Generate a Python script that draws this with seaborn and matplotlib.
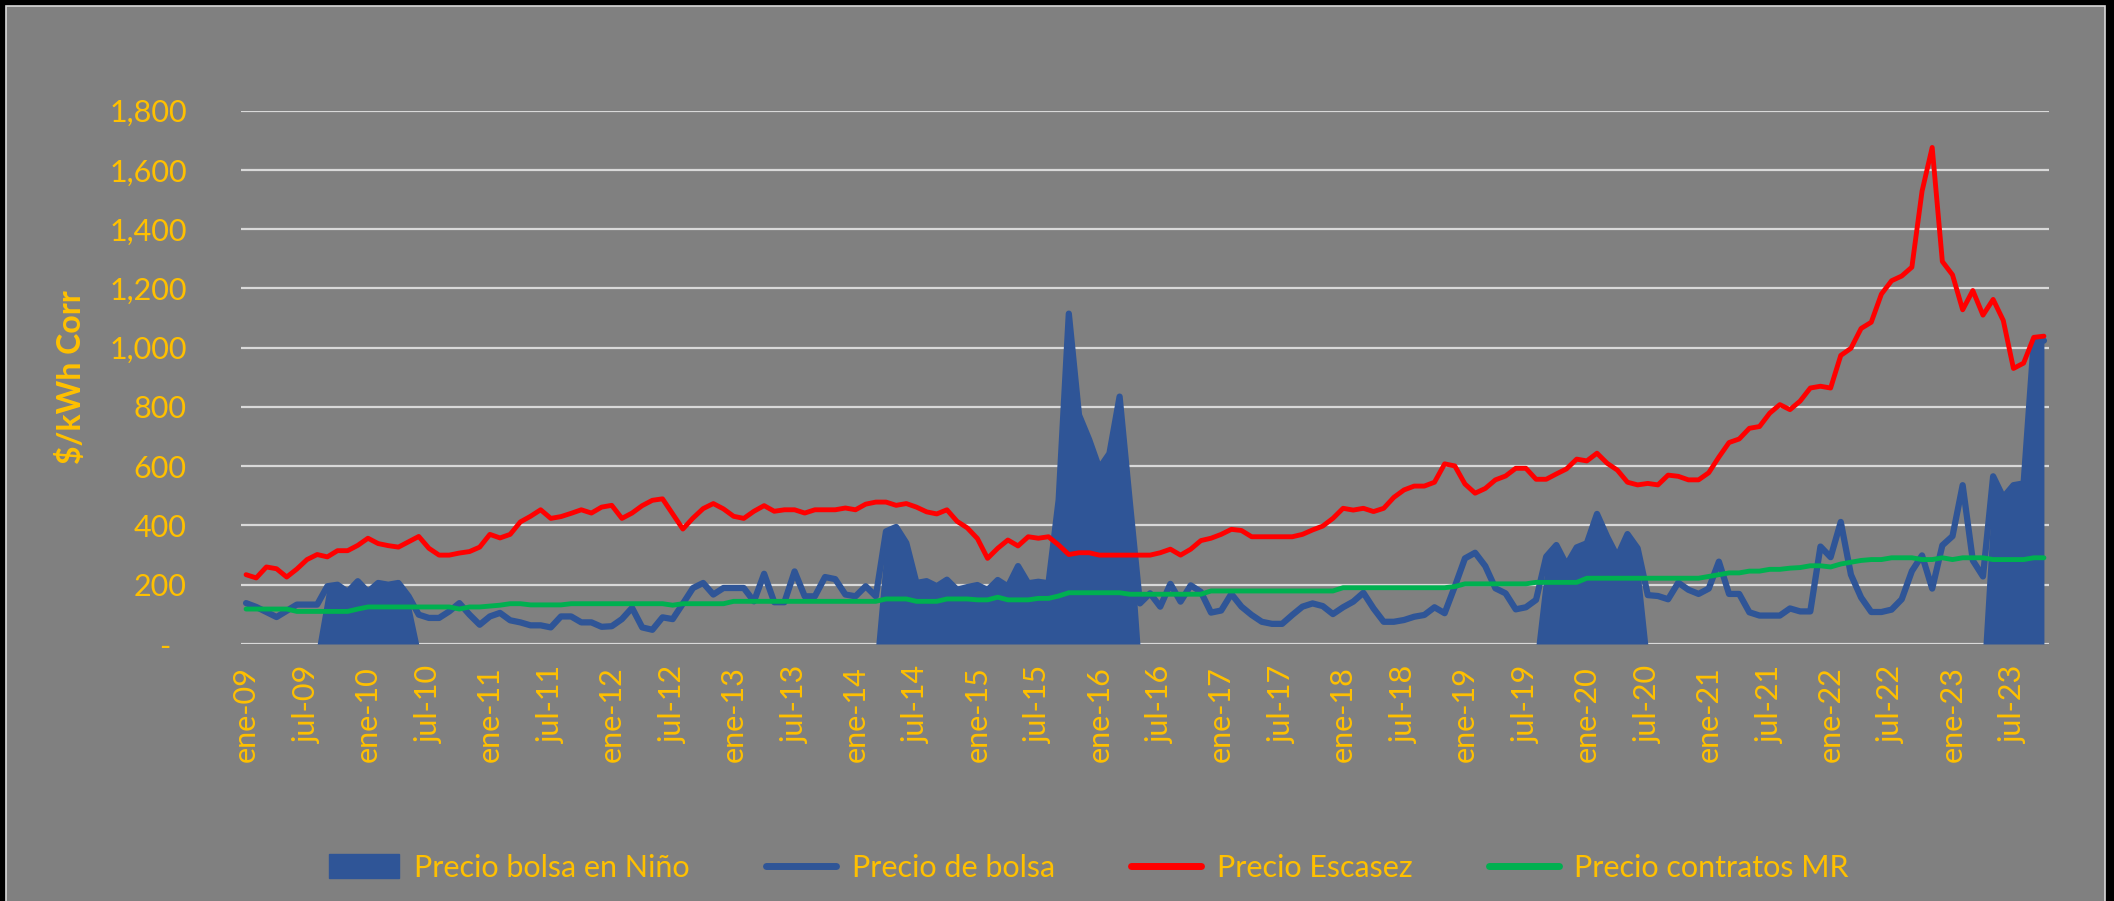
import numpy as np
import pandas as pd
import matplotlib
matplotlib.use("Agg")
import matplotlib.pyplot as plt
from matplotlib.patches import Rectangle, Patch
from matplotlib.lines import Line2D
import seaborn as sns

# monthly series, ene-09 .. oct-23 ($/kWh Corr)
precio_escasez = [
    234, 223, 260, 254, 226, 253, 285, 302, 294, 315,
    315, 333, 357, 339, 332, 327, 345, 363, 323, 300,
    300, 307, 312, 327, 370, 358, 370, 412, 431, 453,
    424, 430, 441, 453, 442, 462, 468, 424, 442, 467,
    485, 490, 439, 388, 425, 457, 474, 456, 431, 424,
    448, 467, 448, 453, 453, 442, 453, 453, 453, 459,
    453, 472, 479, 479, 468, 474, 462, 446, 439, 453,
    414, 392, 356, 289, 323, 351, 331, 362, 357, 362,
    334, 302, 308, 308, 300, 300, 300, 300, 300, 300,
    308, 320, 300, 320, 349, 357, 370, 387, 383, 362,
    362, 362, 362, 362, 370, 385, 398, 424, 458, 452,
    458, 447, 458, 495, 520, 533, 533, 546, 608, 601,
    540, 509, 525, 554, 567, 593, 593, 556, 556, 574,
    591, 624, 618, 644, 610, 587, 546, 537, 542, 537,
    570, 566, 554, 554, 578, 631, 680, 692, 728, 734,
    779, 808, 791, 820, 864, 870, 864, 974, 998, 1065,
    1086, 1181, 1226, 1242, 1272, 1528, 1676, 1291, 1246, 1128,
    1193, 1110, 1163, 1092, 930, 948, 1035, 1039]

precio_bolsa = [
    138, 125, 108, 91, 112, 133, 133, 133, 195, 200,
    176, 212, 176, 206, 200, 206, 161, 99, 88, 88,
    110, 138, 99, 65, 93, 105, 80, 73, 63, 63,
    56, 93, 93, 73, 73, 58, 60, 84, 122, 56,
    48, 90, 84, 136, 189, 206, 167, 189, 189, 189,
    144, 237, 141, 141, 245, 161, 161, 226, 219, 167,
    161, 195, 161, 380, 395, 341, 206, 212, 195, 217,
    183, 192, 199, 182, 216, 194, 263, 205, 210, 205,
    486, 1115, 773, 690, 593, 643, 835, 480, 137, 171,
    126, 203, 143, 198, 176, 106, 113, 169, 126, 98,
    75, 68, 68, 98, 126, 137, 128, 101, 124, 143,
    173, 120, 75, 75, 81, 92, 98, 124, 104, 194,
    289, 308, 263, 188, 171, 117, 124, 149, 295, 334,
    267, 326, 340, 439, 362, 295, 371, 323, 165, 162,
    151, 207, 183, 169, 187, 278, 169, 169, 107, 96,
    96, 96, 120, 110, 110, 329, 293, 412, 234, 157,
    108, 108, 116, 151, 246, 299, 187, 333, 364, 536,
    282, 228, 566, 495, 536, 542, 1021, 1024]

precio_contratos_mr = [
    118, 118, 118, 118, 118, 110, 110, 110, 110, 110,
    110, 118, 125, 125, 125, 125, 125, 125, 125, 125,
    125, 118, 125, 125, 128, 131, 136, 136, 132, 132,
    132, 132, 136, 136, 136, 136, 136, 136, 136, 136,
    136, 136, 131, 136, 136, 136, 136, 136, 144, 144,
    144, 144, 144, 144, 144, 144, 144, 144, 144, 144,
    144, 144, 144, 152, 152, 152, 144, 144, 144, 152,
    152, 152, 149, 149, 158, 149, 149, 149, 154, 154,
    162, 173, 173, 173, 173, 173, 173, 168, 168, 168,
    168, 168, 168, 168, 168, 179, 179, 179, 179, 179,
    179, 179, 179, 179, 179, 179, 179, 179, 190, 190,
    190, 190, 190, 190, 190, 190, 190, 190, 190, 194,
    203, 203, 203, 203, 203, 203, 203, 208, 208, 208,
    208, 208, 222, 222, 222, 222, 222, 222, 222, 222,
    222, 222, 222, 222, 228, 234, 240, 240, 246, 246,
    252, 252, 256, 258, 264, 264, 260, 270, 276, 282,
    285, 285, 291, 291, 291, 285, 285, 291, 285, 291,
    291, 291, 285, 285, 285, 285, 291, 291]

# El Niño months (first and last month index, inclusive)
nino_periods = [(8, 16), (63, 87), (128, 137), (172, 177)]

tick_labels = [f"{m}-{y:02d}" for y in range(9, 24) for m in ("ene", "jul")]
y_ticks = [0, 200, 400, 600, 800, 1000, 1200, 1400, 1600, 1800]

AZUL = "#2F5597"
ROJO = "#FF0000"
VERDE = "#00B050"
AMARILLO = "#FFC000"
GRIS = "#808080"
GRID = "#D9D9D9"


def build_df():
    df = pd.DataFrame({
        "Precio de bolsa": precio_bolsa,
        "Precio Escasez": precio_escasez,
        "Precio contratos MR": precio_contratos_mr,
    })
    df["mes"] = np.arange(len(df))
    nino = np.zeros(len(df))
    for a, b in nino_periods:
        nino[a:b + 1] = df["Precio de bolsa"].values[a:b + 1]
    df["Precio bolsa en Niño"] = nino
    return df


def main():
    df = build_df()
    sns.set_style("white")
    plt.rcParams["font.family"] = ["Lato", "DejaVu Sans"]

    W, H = 2114, 901
    fig = plt.figure(figsize=(W / 100, H / 100), dpi=100, facecolor="black")
    # grey chart area with a thin light frame, black outside
    fig.patches.append(Rectangle((6 / W, -0.02), 2099 / W, 1.02 - 6 / H,
                                 transform=fig.transFigure, facecolor=GRIS,
                                 edgecolor=GRID, linewidth=1.2, zorder=-10))

    ax = fig.add_axes([241 / W, 1 - 644 / H, 1808 / W, 533.3 / H])
    ax.set_facecolor("none")

    ax.fill_between(df["mes"], 0, df["Precio bolsa en Niño"], color=AZUL, lw=0, zorder=2)
    sns.lineplot(data=df, x="mes", y="Precio de bolsa", ax=ax, color=AZUL, lw=4.5, zorder=3)
    sns.lineplot(data=df, x="mes", y="Precio Escasez", ax=ax, color=ROJO, lw=3.5, zorder=4)
    sns.lineplot(data=df, x="mes", y="Precio contratos MR", ax=ax, color=VERDE, lw=3.5, zorder=5)

    ax.set_xlim(-0.5, len(df) - 0.5)
    ax.set_ylim(0, 1800)
    ax.set_yticks(y_ticks)
    ax.set_yticklabels(["-  "] + [f"{v:,}" for v in y_ticks[1:]])
    ax.set_xticks(np.arange(0, len(df), 6))
    ax.set_xticklabels(tick_labels, rotation=90)
    ax.tick_params(axis="y", length=0, pad=39, labelsize=22, labelcolor=AMARILLO)
    ax.tick_params(axis="x", length=0, pad=16, labelsize=22, labelcolor=AMARILLO)
    ax.yaxis.grid(True, color=GRID, lw=1.6, zorder=1)
    ax.xaxis.grid(False)
    ax.set_axisbelow(True)
    for s in ax.spines.values():
        s.set_visible(False)

    ax.set_xlabel("")
    ax.set_ylabel("$/kWh Corr", color=AMARILLO, fontsize=23, fontweight="bold")
    ax.yaxis.set_label_coords(-0.086, 0.5)

    handles = [
        Patch(facecolor=AZUL, edgecolor=AZUL),
        Line2D([], [], color=AZUL, lw=5, solid_capstyle="round"),
        Line2D([], [], color=ROJO, lw=5, solid_capstyle="round"),
        Line2D([], [], color=VERDE, lw=5, solid_capstyle="round"),
    ]
    labels = ["Precio bolsa en Niño", "Precio de bolsa", "Precio Escasez", "Precio contratos MR"]
    leg = fig.legend(handles, labels, loc="center", bbox_to_anchor=(0.515, 0.037), ncol=4,
                     frameon=False, fontsize=22, handlelength=2.3, handleheight=0.8,
                     handletextpad=0.5, columnspacing=2.5)
    for t in leg.get_texts():
        t.set_color(AMARILLO)

    fig.savefig("out.png", dpi=100, facecolor=fig.get_facecolor())


if __name__ == "__main__":
    main()
